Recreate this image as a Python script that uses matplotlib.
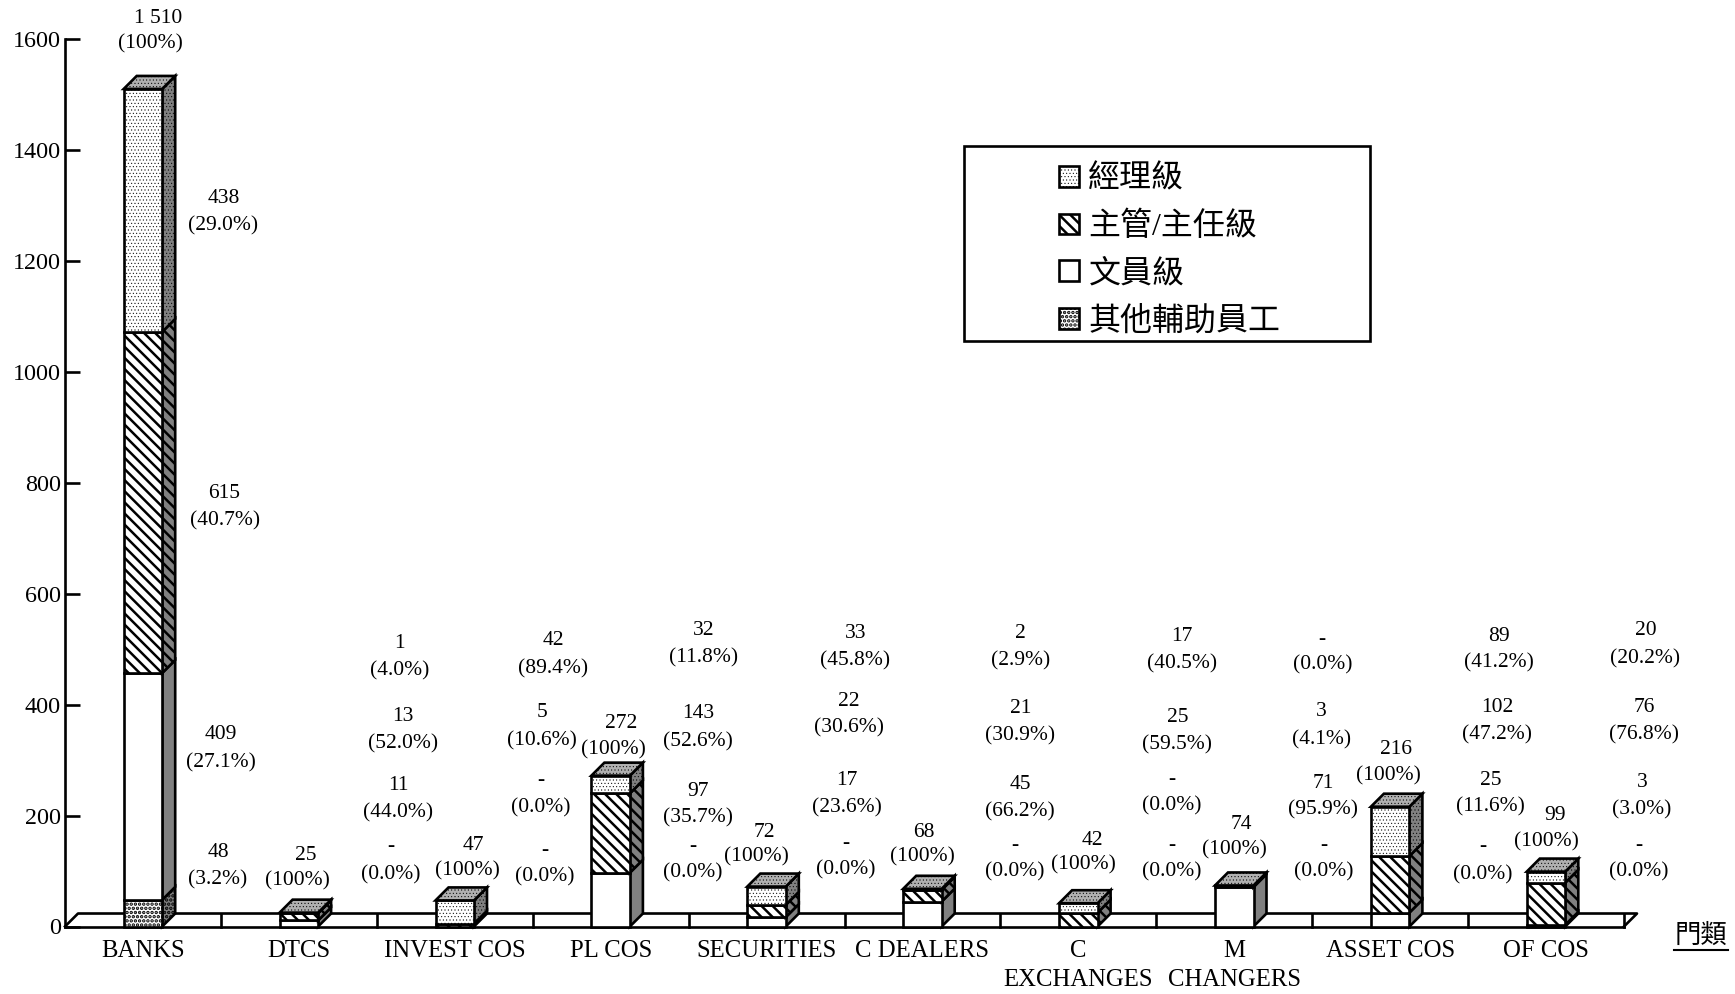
from matplotlib import pyplot as plt
from matplotlib.patches import Patch, Polygon, Rectangle

plt.rcParams["font.family"] = ["Liberation Serif", "Noto Sans CJK TC", "DejaVu Sans"]

categories = ["BANKS", "DTCS", "INVEST COS", "PL COS", "SECURITIES", "C DEALERS",
              "C\nEXCHANGES", "M\nCHANGERS", "ASSET COS", "OF COS"]
managers = [438, 1, 42, 32, 33, 2, 17, 0, 89, 20]
supervisors = [615, 13, 5, 143, 22, 21, 25, 3, 102, 76]
clerks = [409, 11, 0, 97, 17, 45, 0, 71, 25, 3]
others = [48, 0, 0, 0, 0, 0, 0, 0, 0, 0]
legend_labels = ["經理級", "主管/主任級", "文員級", "其他輔助員工"]
y_ticks = [0, 200, 400, 600, 800, 1000, 1200, 1400, 1600]

# Label places in px of the 1568x898 view: (x, y number, y percent), top tier first
label_places = [
    [(202, 177, 202), (203, 444, 469), (200, 662, 687), (197, 768, 793)],
    [(361, 579, 604), (364, 645, 670), (360, 708, 732), (353, 763, 788)],
    [(500, 577, 602), (490, 642, 667), (489, 703, 728), (492, 766, 790)],
    [(636, 568, 592), (631, 643, 668), (631, 713, 737), (626, 763, 787)],
    [(773, 570, 595), (767, 632, 656), (765, 703, 728), (764, 760, 784)],
    [(922, 570, 595), (922, 638, 663), (922, 707, 731), (917, 762, 786)],
    [(1068, 573, 598), (1064, 646, 671), (1059, 702, 726), (1059, 762, 786)],
    [(1195, 576, 599), (1194, 641, 666), (1196, 706, 730), (1196, 762, 786)],
    [(1355, 573, 597), (1353, 637, 662), (1347, 703, 727), (1340, 763, 788)],
    [(1487, 568, 593), (1486, 637, 662), (1484, 705, 730), (1481, 762, 786)],
]
# (x number, y number, x percent, y percent)
total_places = [
    (143, 15, 136, 38), (276, 771, 269, 794), (428, 762, 422, 785),
    (561, 652, 554, 675), (691, 750, 684, 772), (835, 750, 834, 772),
    (987, 757, 979, 779), (1122, 743, 1116, 766), (1262, 675, 1255, 699),
    (1405, 735, 1398, 759),
]

# Per tier: side colour, hatch, hatch line width
DOTS_FINE = ("." * 5, 0.35)
DOTS_DENSE = ("." * 4, 1.7)
STRIPES = ("\\" * 3, 1.8)
PLAIN = (None, 1.0)
tier_styles = [
    ("#808080", DOTS_DENSE),     # others
    ("#808080", PLAIN),          # clerks
    ("#808080", STRIPES),        # supervisors
    ("#808080", DOTS_FINE),      # managers
]
LINE = 1.9
BAR_WIDTH = 38.5 / 155.9
DEPTH_X = 13 / 155.9
DEPTH_Y = 13 / 0.555


def view_text(x, y, text, size=15.5):
    figure.text(x / 1568, 1 - (y + 2) / 898, text, ha="center", va="center", fontsize=size)


def make_patch(kind, args, facecolor, style):
    # the hatch line width is taken from rcParams when a patch is created
    hatch, hatch_width = style
    plt.rcParams["hatch.linewidth"] = hatch_width
    return kind(*args, facecolor=facecolor, edgecolor="black", hatch=hatch, linewidth=LINE)


def face(points, facecolor, style):
    patch = make_patch(Polygon, (points,), facecolor, style)
    patch.set_clip_on(False)
    patch.set_zorder(3)
    axis.add_patch(patch)


figure = plt.figure(figsize=(17.35, 9.94), dpi=100)
axis = figure.add_axes([65 / 1735, (994 - 926.5) / 994, (1625 - 66) / 1735, (926.5 - 39) / 994])
axis.set_xlim(0, len(categories))
axis.set_ylim(0, 1600)

for name in ["top", "right"]:
    axis.spines[name].set_visible(False)
for name in ["left", "bottom"]:
    axis.spines[name].set_linewidth(LINE)

axis.set_yticks(y_ticks)
axis.tick_params(axis="y", direction="in", length=11, width=LINE, pad=3, labelsize=17.4)
centers = [i + 0.5 for i in range(len(categories))]
axis.set_xticks(centers)
axis.set_xticklabels(categories, fontsize=17.8, linespacing=1.39)
axis.tick_params(axis="x", length=0, pad=10)

# Floor of the 3D box
n = len(categories)
axis.plot([0, DEPTH_X, n + DEPTH_X, n], [0, DEPTH_Y, DEPTH_Y, 0], color="black",
          linewidth=LINE, clip_on=False, zorder=1)
for i in range(1, n + 1):
    axis.plot([i, i], [0, DEPTH_Y], color="black", linewidth=LINE, clip_on=False, zorder=1)

# Stacked bars with side and top faces
series = [others, clerks, supervisors, managers]
for i, center in enumerate(centers):
    left = center - BAR_WIDTH / 2
    right = center + BAR_WIDTH / 2
    bottom = 0
    for values, (side_color, style) in zip(series, tier_styles):
        value = values[i]
        if value == 0:
            continue
        top = bottom + value
        face([(right, bottom), (right + DEPTH_X, bottom + DEPTH_Y),
              (right + DEPTH_X, top + DEPTH_Y), (right, top)], side_color, style)
        face([(left, bottom), (right, bottom), (right, top), (left, top)], "white", style)
        bottom = top
    face([(left, bottom), (right, bottom), (right + DEPTH_X, bottom + DEPTH_Y),
          (left + DEPTH_X, bottom + DEPTH_Y)], "#b0b0b0", DOTS_FINE)

# Value labels
for i in range(n):
    total = others[i] + clerks[i] + supervisors[i] + managers[i]
    x_num, y_num, x_pct, y_pct = total_places[i]
    total_text = f"{total:,}".replace(",", " ")
    view_text(x_num, y_num, total_text)
    view_text(x_pct, y_pct, "(100%)")
    tiers = [managers[i], supervisors[i], clerks[i], others[i]]
    for value, (x, y_a, y_b) in zip(tiers, label_places[i]):
        view_text(x, y_a, str(value) if value else "-")
        view_text(x, y_b, f"({100 * value / total:.1f}%)")

# Legend box and entries
figure.add_artist(Rectangle((964 / 1735, 1 - 341 / 994), 406 / 1735, 195 / 994, fill=False,
                            edgecolor="black", linewidth=LINE, transform=figure.transFigure))
legend_styles = [DOTS_FINE, STRIPES, PLAIN, DOTS_DENSE]
handles = [make_patch(Patch, (), "white", style) for style in legend_styles]
legend = axis.legend(handles, legend_labels, loc="upper left",
                     bbox_to_anchor=(1059 / 1735, 1 - 165 / 994),
                     bbox_transform=figure.transFigure, frameon=False, fontsize=23, borderpad=0,
                     borderaxespad=0, handlelength=0.62, handleheight=0.62, handletextpad=0.3,
                     labelspacing=0.54)
# the legend makes its own copies of the handles and loses the hatch width
for handle, style in zip(legend.legend_handles, legend_styles):
    handle._hatch_linewidth = style[1]

# Category axis name, underlined
figure.text(1701 / 1735, 1 - 936 / 994, "門類", ha="center", va="center", fontsize=19)
figure.add_artist(plt.Line2D([1674 / 1735, 1728 / 1735], [1 - 950 / 994, 1 - 950 / 994],
                             color="black", linewidth=1.5))

plt.savefig("out.png", dpi=100)
